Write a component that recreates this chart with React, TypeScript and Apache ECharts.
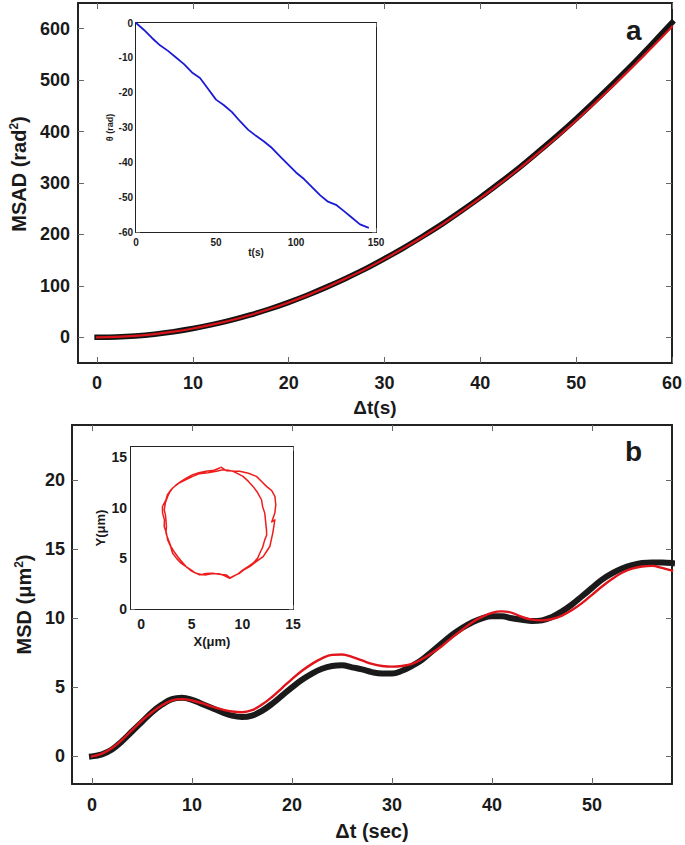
import React, { useEffect, useRef } from "react";
import * as echarts from "echarts";

// Panel a: MSAD vs Δt
const aT = [0, 2, 4, 6, 8, 10, 12, 14, 16, 18, 20, 22, 24, 26, 28, 30, 32, 34, 36, 38, 40, 42, 44, 46, 48, 50, 52, 54, 56, 58, 60];
const aBlack = [0, 0.7, 2.7, 6.1, 10.9, 17, 24.5, 33.3, 43.5, 55, 68, 82.3, 98, 115, 133, 153, 174, 196.5, 220, 245.5, 272, 300, 329, 360, 391.7, 425, 460, 496, 533, 572, 612];
const aRed = [0, 0.7, 2.7, 6.1, 10.9, 17, 24.5, 33.2, 43.4, 54.9, 67.8, 82, 97.6, 114.6, 132.5, 152.4, 173.3, 195.6, 219, 244.3, 270.6, 298.3, 327.2, 357.7, 389, 421.6, 456, 491.5, 528, 565.5, 604];

// Inset a: θ vs t
const insetAT = [0, 5, 10, 15, 20, 25, 30, 35, 40, 45, 50, 55, 60, 65, 70, 75, 80, 85, 90, 95, 100, 105, 110, 115, 120, 125, 130, 135, 140, 145];
const insetATheta = [0, -2.0, -4.3, -6.4, -8.0, -9.9, -11.8, -14.2, -15.8, -18.9, -22.0, -23.6, -25.6, -28.2, -30.6, -32.4, -34.0, -35.9, -38.3, -40.6, -42.9, -44.8, -47.1, -49.4, -51.3, -52.2, -54.0, -55.9, -57.8, -58.7];

// Panel b: MSD vs Δt
const bT = [0, 1, 2, 3, 4, 5, 6, 7, 8, 9, 10, 11, 12, 13, 14, 15, 16, 17, 18, 19, 20, 21, 22, 23, 24, 25, 26, 27, 28, 29, 30, 31, 32, 33, 34, 35, 36, 37, 38, 39, 40, 41, 42, 43, 44, 45, 46, 47, 48, 49, 50, 51, 52, 53, 54, 55, 56, 57, 58];
const bBlack = [0, 0.15, 0.5, 1.1, 1.8, 2.5, 3.2, 3.75, 4.15, 4.25, 4.1, 3.8, 3.5, 3.2, 2.95, 2.85, 2.95, 3.3, 3.8, 4.4, 5.0, 5.55, 6.0, 6.35, 6.55, 6.6, 6.45, 6.3, 6.1, 6.0, 6.0, 6.2, 6.55, 7.0, 7.6, 8.2, 8.8, 9.3, 9.7, 10.0, 10.15, 10.15, 10.0, 9.9, 9.8, 9.85, 10.1, 10.5, 11.0, 11.6, 12.2, 12.8, 13.25, 13.6, 13.85, 14.0, 14.05, 14.05, 14.0];
const bRed = [0, 0.2, 0.6, 1.2, 1.9, 2.6, 3.2, 3.7, 4.05, 4.15, 4.05, 3.85, 3.6, 3.4, 3.25, 3.2, 3.35, 3.75, 4.3, 4.95, 5.6, 6.2, 6.7, 7.1, 7.35, 7.38, 7.2, 6.95, 6.7, 6.55, 6.5, 6.55, 6.7, 7.05, 7.5, 8.0, 8.6, 9.15, 9.7, 10.1, 10.4, 10.5, 10.4, 10.1, 9.9, 9.85, 9.95, 10.2, 10.6, 11.1, 11.7, 12.3, 12.85, 13.3, 13.6, 13.75, 13.8, 13.65, 13.45];

// Inset b: trajectory Y vs X
const insetBX = [7.75, 7.2, 6.42, 5.7, 5.1, 4.5, 3.94, 3.4, 2.95, 2.6, 2.45, 2.1, 2.12, 2.3, 2.28, 2.5, 2.62, 2.9, 3.11, 3.5, 3.94, 4.4, 4.93, 5.3, 5.76, 6.4, 7.08, 7.7, 8.41, 8.8, 9.07, 9.6, 10.06, 10.6, 11.05, 11.5, 11.72, 12.0, 12.21, 12.4, 12.38, 12.3, 12.21, 12.0, 11.89, 11.5, 11.05, 10.6, 10.06, 9.5, 9.07, 8.6, 8.07, 7.42, 6.6, 5.76, 5.1, 4.44, 3.7, 3.11, 2.8, 2.62, 2.4, 2.28, 2.4, 2.45, 2.5, 2.45, 2.7, 2.95, 3.3, 3.6, 4.0, 4.44, 4.9, 5.43, 5.9, 6.42, 7.1, 7.75, 8.2, 8.74, 9.2, 9.73, 10.2, 10.72, 11.4, 12.05, 12.4, 12.71, 13.0, 13.21, 12.9, 13.21, 13.3, 13.21, 12.9, 12.38, 11.9, 11.39, 10.6, 9.73, 9.1, 8.41, 7.9];
const insetBY = [13.93, 13.7, 13.6, 13.45, 13.27, 12.95, 12.6, 12.2, 11.78, 11.3, 10.79, 10.1, 9.47, 8.8, 8.15, 7.5, 6.83, 6.2, 5.51, 5.0, 4.52, 4.2, 3.86, 3.6, 3.37, 3.5, 3.53, 3.42, 3.37, 3.05, 3.2, 3.5, 3.86, 4.2, 4.52, 5.0, 5.51, 6.1, 6.83, 7.3, 7.82, 8.6, 9.47, 10.1, 10.79, 11.5, 12.11, 12.6, 13.1, 13.4, 13.6, 13.7, 13.76, 13.6, 13.45, 13.37, 13.1, 12.77, 12.4, 11.95, 11.5, 11.12, 10.5, 9.8, 9.3, 8.81, 8.1, 7.5, 6.8, 6.17, 5.6, 5.18, 4.7, 4.19, 3.8, 3.53, 3.4, 3.37, 3.5, 3.47, 3.3, 3.04, 3.3, 3.53, 3.9, 4.19, 4.7, 5.18, 5.7, 6.17, 7.5, 8.81, 8.6, 9.5, 10.3, 11.12, 11.7, 12.11, 12.6, 13.1, 13.4, 13.6, 13.62, 13.66, 14.0];

const aXTicks = [0, 10, 20, 30, 40, 50, 60];
const aYTicks = [0, 100, 200, 300, 400, 500, 600];
const bXTicks = [0, 10, 20, 30, 40, 50];
const bYTicks = [0, 5, 10, 15, 20];
const insetBTicks = [0, 5, 10, 15];

const FONT = "'Liberation Sans', Arial, Helvetica, sans-serif";

function zip(xs: number[], ys: number[]) {
  return xs.map((x, i) => [x, ys[i]]);
}

export default function App() {
  const ref = useRef<HTMLDivElement>(null);
  useEffect(() => {
    if (!ref.current) return;
    const chart = echarts.init(ref.current, null, { renderer: "svg" });

    const frame = { show: true, onZero: false, lineStyle: { color: "#222", width: 2 } };
    const tick = (len: number, vals?: number[]) => ({
      show: true,
      inside: true,
      length: len,
      lineStyle: { color: "#666", width: 1 },
      ...(vals ? { customValues: vals } : {}),
    });

    const mkX = (grid: number, min: number, max: number, opts: any) => {
      const vals = opts.ticks;
      const main: any = {
        type: "value",
        gridIndex: grid,
        position: "bottom",
        min,
        max,
        ...(opts.interval ? { interval: opts.interval } : {}),
        axisLine: frame,
        axisTick: tick(opts.tickLen, vals),
        splitLine: { show: false },
        axisLabel: {
          show: true,
          margin: opts.labelMargin,
          fontSize: opts.fontSize,
          fontWeight: "bold",
          fontFamily: FONT,
          color: "#1a1a1a",
          ...(vals ? { customValues: vals } : {}),
        },
        name: opts.name,
        nameLocation: "middle",
        nameGap: opts.nameGap,
        nameTextStyle: opts.nameStyle,
      };
      const mirror: any = {
        type: "value",
        gridIndex: grid,
        position: "top",
        min,
        max,
        ...(opts.interval ? { interval: opts.interval } : {}),
        axisLine: frame,
        axisTick: tick(opts.tickLen, vals),
        splitLine: { show: false },
        axisLabel: { show: false },
      };
      return [main, mirror];
    };
    const mkY = (grid: number, min: number, max: number, opts: any) => {
      const vals = opts.ticks;
      const main: any = {
        type: "value",
        gridIndex: grid,
        position: "left",
        min,
        max,
        ...(opts.interval ? { interval: opts.interval } : {}),
        axisLine: frame,
        axisTick: tick(opts.tickLen, vals),
        splitLine: { show: false },
        axisLabel: {
          show: true,
          margin: opts.labelMargin,
          fontSize: opts.fontSize,
          fontWeight: "bold",
          fontFamily: FONT,
          color: "#1a1a1a",
          ...(vals ? { customValues: vals } : {}),
        },
        name: opts.name,
        nameLocation: "middle",
        nameGap: opts.nameGap,
        nameRotate: 90,
        nameTextStyle: opts.nameStyle,
      };
      const mirror: any = {
        type: "value",
        gridIndex: grid,
        position: "right",
        min,
        max,
        ...(opts.interval ? { interval: opts.interval } : {}),
        axisLine: frame,
        axisTick: tick(opts.tickLen, vals),
        splitLine: { show: false },
        axisLabel: { show: false },
      };
      return [main, mirror];
    };

    const bigName = (size: number) => ({
      fontSize: size,
      fontWeight: "bold",
      fontFamily: FONT,
      color: "#1a1a1a",
      rich: {
        sup: { fontSize: size * 0.6, fontWeight: "bold", fontFamily: FONT, color: "#1a1a1a", verticalAlign: "top", padding: [0, 0, 10, 0] },
      },
    });
    const smallName = (size: number) => ({
      fontSize: size,
      fontWeight: "bold",
      fontFamily: FONT,
      color: "#1a1a1a",
    });

    const xAxes = [
      ...mkX(0, -2, 60, { ticks: aXTicks, tickLen: 6, labelMargin: 11, fontSize: 18, name: "Δt(s)", nameGap: 35, nameStyle: bigName(19) }),
      ...mkX(1, 0, 150, { interval: 50, tickLen: 4, labelMargin: 5, fontSize: 10, name: "t(s)", nameGap: 7, nameStyle: smallName(10) }),
      ...mkX(2, -2, 58, { ticks: bXTicks, tickLen: 6, labelMargin: 12, fontSize: 18, name: "Δt (sec)", nameGap: 37, nameStyle: bigName(20) }),
      ...mkX(3, -1, 15, { ticks: insetBTicks, tickLen: 4, labelMargin: 8, fontSize: 14, name: "X(μm)", nameGap: 26, nameStyle: smallName(13) }),
    ];
    const yAxes = [
      ...mkY(0, -50, 650, { ticks: aYTicks, tickLen: 6, labelMargin: 8, fontSize: 18, name: "MSAD (rad{sup|2})", nameGap: 37, nameStyle: { ...bigName(20), padding: [0, 0, 0, 18] } }),
      ...mkY(1, -60, 0, { interval: 10, tickLen: 4, labelMargin: 3, fontSize: 10, name: "θ (rad)", nameGap: 21, nameStyle: smallName(9) }),
      ...mkY(2, -2, 24, { ticks: bYTicks, tickLen: 6, labelMargin: 7, fontSize: 18, name: "MSD (μm{sup|2})", nameGap: 31, nameStyle: bigName(20) }),
      ...mkY(3, 0, 16, { ticks: insetBTicks, tickLen: 4, labelMargin: 4, fontSize: 14, name: "Y(μm)", nameGap: 24, nameStyle: smallName(13) }),
    ];

    const line = (xi: number, data: number[][], color: string, width: number, z = 2, smooth: any = false) => ({
      type: "line",
      xAxisIndex: xi,
      yAxisIndex: xi,
      data,
      showSymbol: false,
      smooth,
      z,
      lineStyle: { color, width, cap: "square", join: "round" },
      emphasis: { disabled: true },
    });

    chart.setOption({
      animation: false,
      backgroundColor: "#fff",
      grid: [
        { left: 71, top: 3, width: 601, height: 360, show: true, backgroundColor: "#fff", borderWidth: 0, z: 0 },
        { left: 136, top: 23, width: 240, height: 209, show: true, backgroundColor: "#fff", borderWidth: 0, z: 3 },
        { left: 72, top: 425, width: 600, height: 359, show: true, backgroundColor: "#fff", borderWidth: 0, z: 0 },
        { left: 131, top: 447, width: 162, height: 162, show: true, backgroundColor: "#fff", borderWidth: 0, z: 3 },
      ],
      xAxis: xAxes,
      yAxis: yAxes,
      series: [
        line(0, zip(aT, aBlack), "#141414", 5.5, 2, 0.3),
        line(0, zip(aT, aRed), "#d8141a", 2.2, 3, 0.3),
        line(2, zip(insetAT, insetATheta), "#1b1bd6", 1.8, 4),
        line(4, zip(bT, bBlack), "#1a1a1a", 6, 2, 0.4),
        line(4, zip(bT, bRed), "#e0141b", 2.4, 3, 0.4),
        line(6, zip(insetBX, insetBY), "#ee1c1c", 1.5, 4),
      ],
      graphic: [
        { type: "text", left: 626, top: 16, style: { text: "a", font: `bold 28px ${FONT}`, fill: "#1a1a1a" }, z: 10 },
        { type: "text", left: 625, top: 437, style: { text: "b", font: `bold 28px ${FONT}`, fill: "#1a1a1a" }, z: 10 },
      ],
    });

    return () => chart.dispose();
  }, []);

  return (
    <div
      ref={ref}
      style={{ position: "absolute", left: 0, top: 0, width: 685, height: 845, background: "#fff" }}
    />
  );
}
